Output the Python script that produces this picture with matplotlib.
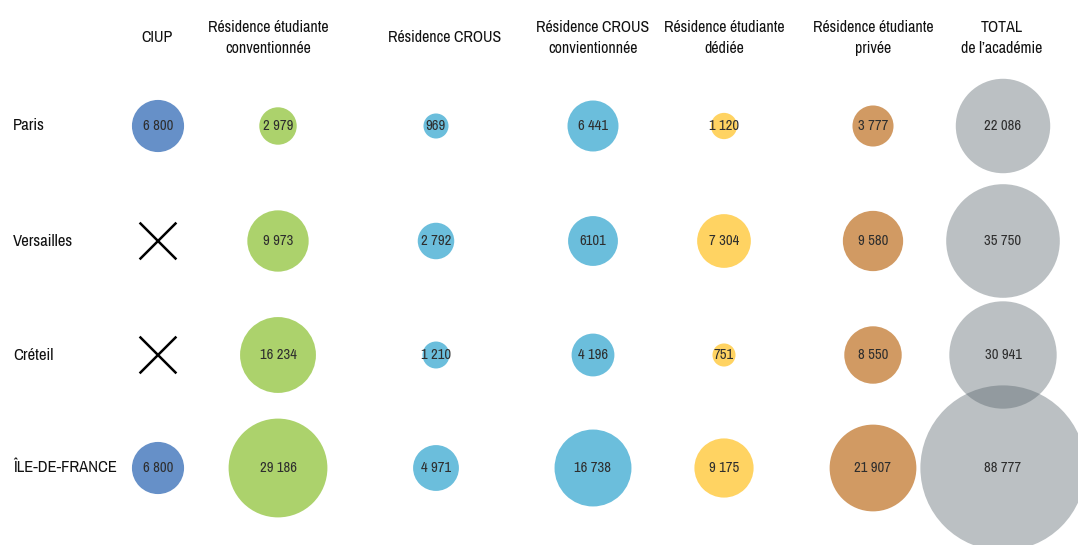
import matplotlib
matplotlib.use("Agg")
import matplotlib.pyplot as plt
from matplotlib import font_manager
from matplotlib.patches import Circle
import numpy as np

# police condensée si disponible, sinon Roboto
narrow = sorted({f.name for f in font_manager.fontManager.ttflist
                 if "Narrow" in f.name or "Condensed" in f.name})
plt.rcParams['font.family'] = narrow[:1] + ['Roboto', 'DejaVu Sans']
condensed = len(narrow) > 0

rows = ["Paris", "Versailles", "Créteil", "ÎLE-DE-FRANCE"]
headers = ["CIUP", "Résidence étudiante\nconventionnée", "Résidence CROUS",
           "Résidence CROUS\nconvientionnée", "Résidence étudiante\ndédiée",
           "Résidence étudiante\nprivée", "TOTAL\nde l’académie"]
# None = pas de CIUP dans l'académie
ciup = [6800, None, None, 6800]
res_conv = [2979, 9973, 16234, 29186]
crous = [969, 2792, 1210, 4971]
crous_conv = [6441, 6101, 4196, 16738]
res_dediee = [1120, 7304, 751, 9175]
res_privee = [3777, 9580, 8550, 21907]
total = [22086, 35750, 30941, 88777]
labels = {6101: "6101"}  # written without space in the source

columns = [ciup, res_conv, crous, crous_conv, res_dediee, res_privee, total]
colors = ["#6690c8", "#acd26c", "#6bbedc", "#6bbedc", "#ffd362", "#d19a63", "#56636a"]
alphas = [1, 1, 1, 1, 1, 1, 0.4]

col_x = [158, 278, 436, 593, 724, 873, 1003]
head_x = [157, 268, 445, 593, 724, 873, 1002]
row_y = [126, 241, 355, 468]

fs_head = 11.5 if condensed else 9.3
fs_row = 12 if condensed else 9.6
fs_val = 10.5 if condensed else 8.5

fig = plt.figure(figsize=(10.78, 5.45), dpi=100)
ax = fig.add_axes([0, 0, 1, 1])
ax.set_xlim(0, 1078)
ax.set_ylim(545, 0)
ax.axis("off")

def fmt(v):
    if v in labels:
        return labels[v]
    return f"{v:,}".replace(",", " ")

for ci, col in enumerate(columns):
    x = col_x[ci]
    for ri, v in enumerate(col):
        y = row_y[ri]
        if v is None:
            s = 17.5
            ax.plot([x - s, x + s], [y - s, y + s], color="black", lw=1.8)
            ax.plot([x - s, x + s], [y + s, y - s], color="black", lw=1.8)
            continue
        if ci == len(columns) - 1:
            r = 12 + 0.237 * np.sqrt(v)
        else:
            r = 4.3 + 0.264 * np.sqrt(v)
        ax.add_patch(Circle((x, y), r, facecolor=colors[ci], alpha=alphas[ci],
                            edgecolor="none", zorder=2))
        ax.text(x, y, fmt(v), ha="center", va="center", fontsize=fs_val,
                color="#2e2e2e", zorder=3)

for ci, h in enumerate(headers):
    y = 37 if "\n" not in h else 38
    ax.text(head_x[ci], y, h, ha="center", va="center", fontsize=fs_head,
            color="#111111", linespacing=1.5)

for ri, name in enumerate(rows):
    ax.text(13, row_y[ri], name, ha="left", va="center", fontsize=fs_row,
            color="#111111")

fig.savefig("out.png", dpi=100)
